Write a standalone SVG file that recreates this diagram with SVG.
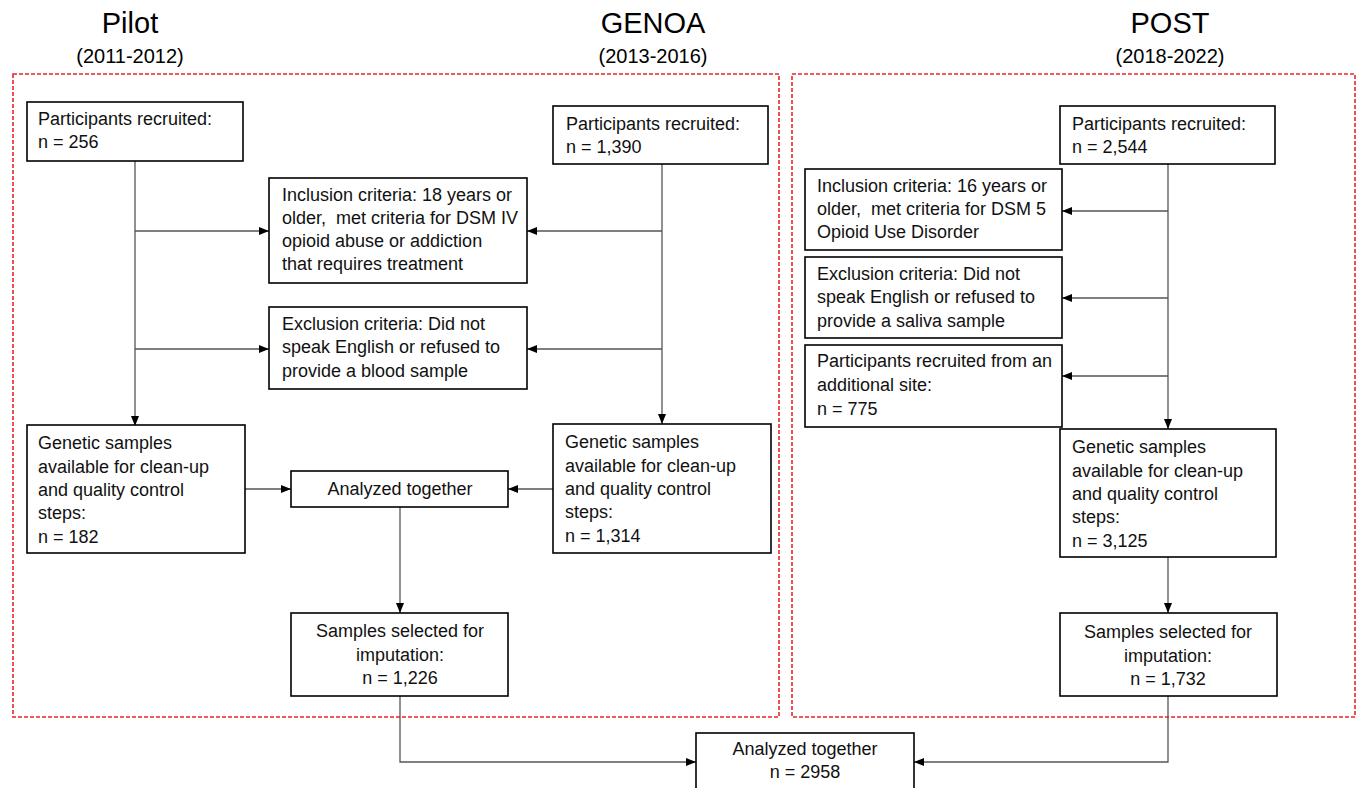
<svg xmlns="http://www.w3.org/2000/svg" width="1357" height="788" viewBox="0 0 1357 788">
<style>
.box{fill:#fff;stroke:#000;stroke-width:1.6}
.grp{fill:none;stroke:#e8262a;stroke-width:1.6;stroke-dasharray:4 2}
.t{font-family:"Liberation Sans",Arial,sans-serif;font-size:18px;fill:#111}
.c{text-anchor:middle}
.h1{font-family:"Liberation Sans",Arial,sans-serif;font-size:29px;fill:#000;text-anchor:middle}
.h2{font-family:"Liberation Sans",Arial,sans-serif;font-size:20px;fill:#000;text-anchor:middle}
.ln{fill:none;stroke:#555;stroke-width:1.3}
.ar{marker-end:url(#ah)}
</style>
<defs>
<marker id="ah" markerUnits="userSpaceOnUse" markerWidth="10" markerHeight="10" refX="10" refY="5" orient="auto">
<path d="M0,1 L10,5 L0,9 z" fill="#000"/>
</marker>
</defs>
<rect width="1357" height="788" fill="#fff"/>

<g id="titles">
<text class="h1" x="130" y="33">Pilot</text>
<text class="h2" x="130" y="63">(2011-2012)</text>
<text class="h1" x="653" y="33">GENOA</text>
<text class="h2" x="653" y="63">(2013-2016)</text>
<text class="h1" x="1170" y="33">POST</text>
<text class="h2" x="1170" y="63">(2018-2022)</text>
</g>

<g id="groups">
<rect class="grp" x="13" y="74" width="766" height="643"/>
<rect class="grp" x="792" y="74" width="563" height="643"/>
</g>

<g id="connectors">
<path class="ln ar" d="M135,161 V426"/>
<path class="ln ar" d="M135,231 H269"/>
<path class="ln ar" d="M135,349 H269"/>
<path class="ln ar" d="M662,164 V424"/>
<path class="ln ar" d="M662,231 H527"/>
<path class="ln ar" d="M662,349 H527"/>
<path class="ln ar" d="M245,489 H291"/>
<path class="ln ar" d="M553,489 H508"/>
<path class="ln ar" d="M400,507 V613"/>
<path class="ln ar" d="M1168,164 V429"/>
<path class="ln ar" d="M1168,211 H1062"/>
<path class="ln ar" d="M1168,298 H1062"/>
<path class="ln ar" d="M1168,376 H1062"/>
<path class="ln ar" d="M1168,557 V613"/>
<path class="ln ar" d="M400,696 V762 H696"/>
<path class="ln ar" d="M1168,696 V762 H914"/>
</g>

<g id="pilot-recruited">
<rect class="box" x="27" y="102" width="216" height="59"/>
<text class="t" x="38" y="125">Participants recruited:</text>
<text class="t" x="38" y="148">n = 256</text>
</g>

<g id="genoa-recruited">
<rect class="box" x="553" y="106" width="215" height="58"/>
<text class="t" x="566" y="130">Participants recruited:</text>
<text class="t" x="566" y="153">n = 1,390</text>
</g>

<g id="inclusion-1">
<rect class="box" x="269" y="178" width="258" height="105"/>
<text class="t" x="282" y="201">Inclusion criteria: 18 years or</text>
<text class="t" x="282" y="224">older,&#160; met criteria for DSM IV</text>
<text class="t" x="282" y="247">opioid abuse or addiction</text>
<text class="t" x="282" y="270">that requires treatment</text>
</g>

<g id="exclusion-1">
<rect class="box" x="269" y="307" width="258" height="82"/>
<text class="t" x="282" y="330">Exclusion criteria: Did not</text>
<text class="t" x="282" y="353">speak English or refused to</text>
<text class="t" x="282" y="377">provide a blood sample</text>
</g>

<g id="pilot-genetic">
<rect class="box" x="27" y="425" width="218" height="128"/>
<text class="t" x="38" y="449">Genetic samples</text>
<text class="t" x="38" y="473">available for clean-up</text>
<text class="t" x="38" y="496">and quality control</text>
<text class="t" x="38" y="519">steps:</text>
<text class="t" x="38" y="543">n = 182</text>
</g>

<g id="genoa-genetic">
<rect class="box" x="553" y="424" width="218" height="129"/>
<text class="t" x="565" y="448">Genetic samples</text>
<text class="t" x="565" y="472">available for clean-up</text>
<text class="t" x="565" y="495">and quality control</text>
<text class="t" x="565" y="518">steps:</text>
<text class="t" x="565" y="542">n = 1,314</text>
</g>

<g id="analyzed-1">
<rect class="box" x="291" y="471" width="217" height="36"/>
<text class="t c" x="400" y="495">Analyzed together</text>
</g>

<g id="selected-1">
<rect class="box" x="291" y="613" width="217" height="83"/>
<text class="t c" x="400" y="637">Samples selected for</text>
<text class="t c" x="400" y="661">imputation:</text>
<text class="t c" x="400" y="684">n = 1,226</text>
</g>

<g id="post-recruited">
<rect class="box" x="1060" y="106" width="215" height="58"/>
<text class="t" x="1072" y="130">Participants recruited:</text>
<text class="t" x="1072" y="153">n = 2,544</text>
</g>

<g id="inclusion-post">
<rect class="box" x="805" y="169" width="257" height="81"/>
<text class="t" x="817" y="192">Inclusion criteria: 16 years or</text>
<text class="t" x="817" y="215">older,&#160; met criteria for DSM 5</text>
<text class="t" x="817" y="238">Opioid Use Disorder</text>
</g>

<g id="exclusion-post">
<rect class="box" x="805" y="257" width="257" height="81"/>
<text class="t" x="817" y="280">Exclusion criteria: Did not</text>
<text class="t" x="817" y="303">speak English or refused to</text>
<text class="t" x="817" y="327">provide a saliva sample</text>
</g>

<g id="additional-site">
<rect class="box" x="805" y="345" width="257" height="82"/>
<text class="t" x="817" y="367">Participants recruited from an</text>
<text class="t" x="817" y="391">additional site:</text>
<text class="t" x="817" y="415">n = 775</text>
</g>

<g id="post-genetic">
<rect class="box" x="1060" y="429" width="216" height="128"/>
<text class="t" x="1072" y="453">Genetic samples</text>
<text class="t" x="1072" y="477">available for clean-up</text>
<text class="t" x="1072" y="500">and quality control</text>
<text class="t" x="1072" y="523">steps:</text>
<text class="t" x="1072" y="547">n = 3,125</text>
</g>

<g id="selected-post">
<rect class="box" x="1060" y="613" width="217" height="83"/>
<text class="t c" x="1168" y="638">Samples selected for</text>
<text class="t c" x="1168" y="662">imputation:</text>
<text class="t c" x="1168" y="685">n = 1,732</text>
</g>

<g id="analyzed-final">
<rect class="box" x="696" y="733" width="218" height="70"/>
<text class="t c" x="805" y="755">Analyzed together</text>
<text class="t c" x="805" y="778">n = 2958</text>
</g>
</svg>
